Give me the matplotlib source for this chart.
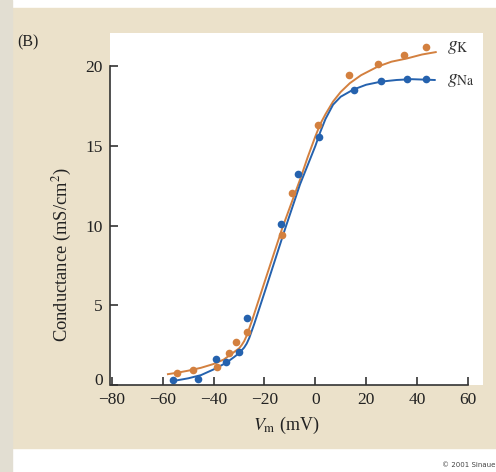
import matplotlib
matplotlib.use('Agg')
import matplotlib.pyplot as plt
from matplotlib.patches import Rectangle
from matplotlib.transforms import ScaledTranslation

plt.rcParams.update({'font.family': 'Liberation Serif', 'mathtext.fontset': 'stix'})

# measured points (mV, mS/cm2)
vm_na = [-56, -46, -39, -35, -30, -27, -13.5, -7, 1.3, 15.3, 26, 36, 43.5]
g_na = [0.3, 0.38, 1.65, 1.45, 2.1, 4.2, 10.1, 13.25, 15.6, 18.55, 19.1, 19.2, 19.2]

vm_k = [-54.3, -48.3, -38.6, -34, -31.2, -26.7, -13, -9.1, 0.9, 13.3, 24.7, 35, 43.5]
g_k = [0.77, 0.92, 1.15, 2.0, 2.7, 3.35, 9.4, 12.05, 16.3, 19.45, 20.15, 20.7, 21.2]

# fitted curves
fit_vm_na = [-56, -50, -45, -40, -35, -32, -30, -28, -27, -26, -25, -24, -20, -12,
             -6, 0, 2, 4, 7, 10, 15, 20, 26, 32, 38, 47]
fit_g_na = [0.25, 0.42, 0.62, 0.98, 1.4, 1.75, 2.0, 2.35, 2.6, 2.95, 3.4, 3.85, 5.8, 9.75,
            12.6, 15.0, 15.9, 16.7, 17.6, 18.1, 18.55, 18.85, 19.05, 19.15, 19.2, 19.15]

fit_vm_k = [-58, -54, -50, -45, -40, -36, -33, -30, -29, -28, -27, -26, -25, -20, -13,
            -6, -3, 0, 2, 4, 7, 10, 13.6, 18, 24.7, 30, 36, 42, 47.4]
fit_g_k = [0.68, 0.78, 0.9, 1.08, 1.32, 1.6, 1.95, 2.3, 2.5, 2.75, 3.1, 3.55, 4.0, 6.45, 9.85,
           12.9, 14.3, 15.6, 16.4, 17.0, 17.8, 18.4, 18.95, 19.45, 20.0, 20.3, 20.5, 20.75, 20.9]

orange = '#D3803F'
blue = '#2562AE'
beige = '#EBE1CA'

fig = plt.figure(figsize=(4.96, 4.72), dpi=100, facecolor='white')
fig.patches.append(Rectangle((12 / 496, 24 / 472), 484 / 496, 440 / 472,
                             transform=fig.transFigure, color=beige, zorder=-2))
fig.patches.append(Rectangle((0, 0), 12 / 496, 1, transform=fig.transFigure,
                             color='#E2DED2', zorder=-2))

ax = fig.add_axes([110 / 496, 87 / 472, 373 / 496, 352 / 472])
ax.set_zorder(2)
ax.set_facecolor('white')

ax.plot(fit_vm_k, fit_g_k, color=orange, lw=1.4)
ax.plot(fit_vm_na, fit_g_na, color=blue, lw=1.4)
ax.plot(vm_k, g_k, 'o', color=orange, ms=5.5, mec='none')
ax.plot(vm_na, g_na, 'o', color=blue, ms=5.5, mec='none')

ax.set_xlim(-80.8, 66)
ax.set_ylim(0, 22.1)
for s in ['top', 'right']:
    ax.spines[s].set_visible(False)
ax.spines['left'].set_bounds(0, 20)
ax.spines['bottom'].set_bounds(-80, 60)
for s in ['left', 'bottom']:
    ax.spines[s].set_color('#333333')
    ax.spines[s].set_linewidth(1.2)

ax.set_xticks(range(-80, 61, 20))
ax.set_xticklabels(['\u221280', '\u221260', '\u221240', '\u221220', '0', '20', '40', '60'])
ax.set_yticks([0, 5, 10, 15, 20])
ax.tick_params(direction='in', length=6, width=1.2, color='#333333', labelsize=12.5,
               labelcolor='#222222')
ax.tick_params(axis='x', pad=5)
ax.tick_params(axis='y', pad=5)

# lift the y "0" a little so it clears the "-80" below it
lab0 = ax.yaxis.get_major_ticks()[0].label1
lab0.set_transform(lab0.get_transform() + ScaledTranslation(0, 4 / 72, fig.dpi_scale_trans))

ax.text(52, 21.2, r'$g_{\mathrm{K}}$', fontsize=14, va='center', color='#333333')
ax.text(52, 19.1, r'$g_{\mathrm{Na}}$', fontsize=14, va='center', color='#333333')

fig.text(286 / 496, 1 - 425 / 472, r'$V_{\mathrm{m}}$ (mV)', fontsize=13,
         ha='center', va='center', color='#222222')
fig.text(62 / 496, 1 - 255 / 472, 'Conductance (mS/cm$^2$)', fontsize=13.3,
         rotation=90, ha='center', va='center', color='#222222')
fig.text(17 / 496, 1 - 42 / 472, '(B)', fontsize=11.5, va='center', color='#222222')
fig.text(442 / 496, 1 - 465 / 472, '\u00a9 2001 Sinauer', fontsize=5, family='DejaVu Sans',
         va='center', color='#444444')

fig.savefig('out.png', dpi=100, facecolor='white')
